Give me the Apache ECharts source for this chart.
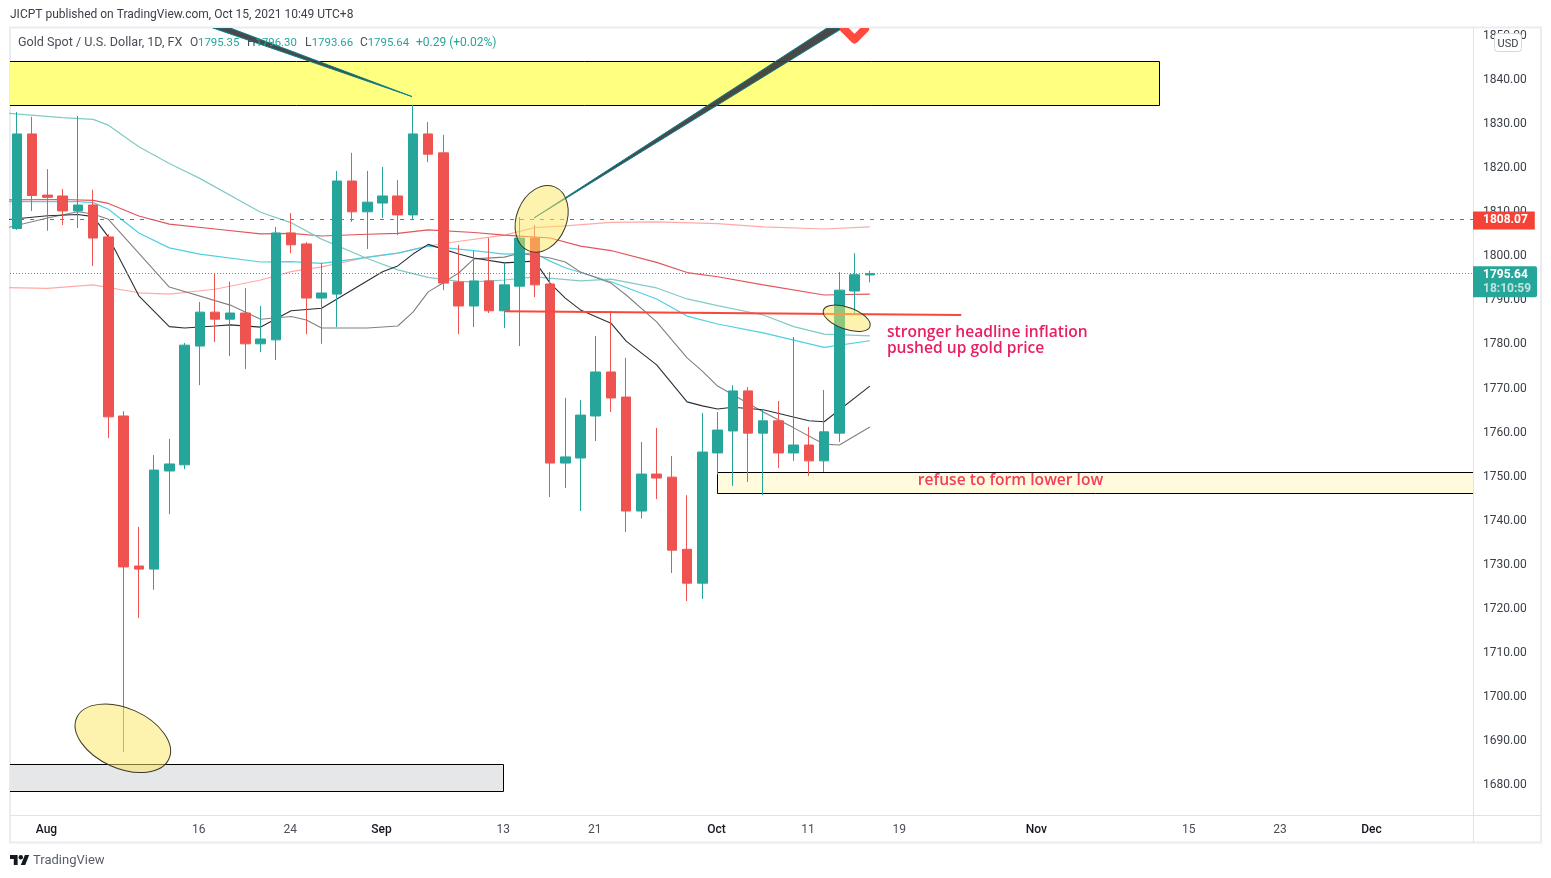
<!DOCTYPE html>
<html>
<head>
<meta charset="utf-8">
<title>Gold Spot / U.S. Dollar</title>
<script src="https://cdn.jsdelivr.net/npm/echarts@6/dist/echarts.min.js"></script>
<style>
html, body { margin: 0; padding: 0; background: #fff; }
#chart { width: 1551px; height: 878px; }
</style>
</head>
<body>
<div id="chart"></div>
<script>
// daily candles, 29 Jul - 15 Oct 2021
var days = ['07-29','07-30','08-02','08-03','08-04','08-05','08-06','08-09','08-10','08-11','08-12','08-13','08-16','08-17','08-18','08-19','08-20','08-23','08-24','08-25','08-26','08-27','08-30','08-31','09-01','09-02','09-03','09-06','09-07','09-08','09-09','09-10','09-13','09-14','09-15','09-16','09-17','09-20','09-21','09-22','09-23','09-24','09-27','09-28','09-29','09-30','10-01','10-04','10-05','10-06','10-07','10-08','10-11','10-12','10-13','10-14','10-15'];
var opens = [1805.9,1827.4,1813.5,1813.3,1809.9,1811.25,1804.0,1763.3,1729.2,1728.5,1750.8,1752.2,1779.2,1786.9,1785.3,1786.7,1779.7,1780.6,1804.9,1802.4,1790.1,1791.0,1816.7,1809.7,1811.7,1813.3,1809.0,1827.4,1823.1,1793.75,1788.3,1794.0,1787.2,1792.8,1803.75,1793.3,1752.6,1753.75,1763.3,1773.3,1767.6,1741.7,1750.1,1749.4,1733.0,1725.3,1754.9,1759.9,1769.0,1759.4,1762.2,1754.9,1756.7,1753.1,1759.4,1791.7,1795.35];
var closes = [1827.4,1813.4,1813.0,1809.9,1811.25,1803.75,1763.1,1729.0,1728.5,1751.0,1752.4,1779.4,1786.9,1785.3,1786.7,1779.7,1780.8,1804.9,1802.2,1790.1,1791.25,1816.7,1809.7,1811.9,1813.3,1809.0,1827.4,1822.8,1793.5,1788.3,1794.0,1787.2,1793.1,1803.75,1793.1,1752.6,1754.0,1763.5,1773.3,1767.4,1741.7,1750.1,1749.2,1732.8,1725.3,1755.1,1760.1,1769.0,1759.4,1762.2,1754.9,1756.7,1753.1,1759.7,1791.9,1795.4,1795.64];
var lows = [1805.6,1809.9,1805.4,1806.7,1806.0,1797.4,1758.3,1686.9,1717.4,1723.8,1741.0,1751.2,1770.3,1780.1,1776.9,1774.0,1777.8,1776.0,1800.3,1781.9,1779.7,1783.5,1807.4,1801.25,1808.3,1804.4,1807.8,1821.0,1791.9,1781.9,1783.5,1786.7,1783.3,1779.2,1790.3,1744.9,1746.9,1741.7,1757.6,1764.2,1736.9,1740.0,1744.4,1727.6,1721.25,1721.7,1750.0,1747.4,1748.3,1745.3,1751.5,1753.1,1749.7,1750.6,1757.4,1786.7,1793.66];
var highs = [1832.4,1831.3,1819.4,1814.9,1831.5,1814.7,1804.6,1764.4,1738.1,1754.4,1758.1,1779.9,1789.2,1795.6,1793.8,1792.4,1788.3,1806.25,1809.4,1802.8,1798.1,1819.0,1823.1,1819.0,1819.9,1816.9,1834.0,1830.1,1827.2,1802.2,1800.8,1803.75,1798.1,1808.5,1806.7,1796.0,1767.4,1766.9,1781.5,1787.2,1776.5,1757.4,1760.6,1754.2,1745.3,1764.0,1764.2,1770.3,1769.9,1764.9,1766.7,1781.25,1760.8,1769.2,1796.0,1800.3,1796.3];

// moving averages, read as [candle index, price] at the bends
var maBlack = [[-1,1807.8],[2,1808.8],[4,1809.1],[5,1808.6],[6,1804.0],[8,1790.6],[10,1783.6],[11,1783.3],[13,1783.75],[14,1784],[16,1783.5],[18,1787.2],[20,1787.8],[24,1796.1],[25,1797.4],[26,1800.1],[27,1802.3],[29,1800.1],[30,1799.2],[32,1798.1],[34,1798.5],[35,1793.5],[36,1790.1],[37,1787.4],[39,1784.4],[40,1780.3],[42,1774.9],[44,1766.5],[45,1765.6],[46,1764.9],[47,1765.3],[49,1764.7],[52,1762.2],[53,1762],[56,1770.1]];
var maGray = [[-1,1805.8],[2,1808.3],[4,1809.7],[5,1809.2],[6,1808],[10,1792.6],[14,1788.5],[16,1785.3],[18,1785.9],[19,1785.1],[20,1783.3],[23,1783.3],[25,1783.75],[26,1786.9],[27,1791.5],[28,1793.6],[29,1795.8],[30,1799],[32,1799.4],[33,1800.3],[35,1799.2],[36,1798.3],[37,1796],[39,1793.5],[40,1790.8],[42,1784.7],[44,1776.5],[45,1773.5],[46,1770.1],[49,1764.2],[51,1760.6],[53,1756.9],[54,1756.7],[56,1760.8]];
var maCyan = [[-1,1812],[4,1812],[5,1811.8],[6,1810.3],[8,1804.9],[10,1801.5],[12,1800.1],[16,1798.3],[18,1798.4],[20,1798],[22,1798.9],[25,1800.3],[27,1801.9],[30,1800.9],[32,1800.1],[34,1800.3],[35,1798.5],[36,1797],[39,1793.8],[42,1789.9],[44,1786],[46,1784.2],[49,1782.2],[53,1778.9],[56,1780.4]];
var maTeal = [[-1,1832.2],[3,1831.1],[5,1830.7],[6,1829.4],[8,1824.5],[10,1820.7],[12,1817.3],[16,1809.6],[18,1807.2],[20,1803.5],[23,1799.1],[25,1796.5],[27,1794.8],[29,1793.9],[30,1793.8],[32,1794.2],[34,1794.9],[37,1794],[39,1794.4],[42,1792.4],[44,1789.9],[46,1788.4],[49,1786.25],[51,1783.6],[53,1781.9],[56,1781.5]];
var maRed = [[-1,1812.4],[3,1812.5],[5,1812.3],[6,1811.6],[8,1808.75],[10,1806.9],[13,1805.8],[16,1804.7],[18,1804.8],[20,1804.2],[23,1804.6],[25,1804.8],[27,1805.6],[30,1805],[32,1804.4],[35,1803.75],[37,1801.9],[39,1800.9],[42,1798.2],[44,1795.9],[46,1794.95],[49,1793.1],[53,1790.8],[56,1791]];
var maPink = [[-1,1792.5],[2,1792.3],[5,1793.1],[8,1791.3],[10,1791],[13,1792.1],[16,1794.2],[18,1796.1],[20,1797.2],[23,1799.4],[25,1800.3],[27,1801.9],[28,1802.5],[32,1804.4],[34,1806.1],[36,1806.5],[39,1807.3],[42,1807.4],[46,1807],[49,1806.3],[53,1805.8],[56,1806.3]];

// axis labels
var priceTicks = [1680,1690,1700,1710,1720,1730,1740,1750,1760,1770,1780,1790,1800,1810,1820,1830,1840,1850];
var timeTicks = [2,12,18,24,32,38,46,52,58,67,77,83,89];
var timeLabels = ['Aug','16','24','Sep','13','21','Oct','11','19','Nov','15','23','Dec'];

// price levels
var lastPrice = 1795.64;
var levelPrice = 1808.07;

// drawings on the chart, [start index, end index, top price, bottom price]
var boxes = [[-1,75.01,1843.9,1833.9],[-1,31.96,1684.1,1678],[46,100,1750.45,1745.7]];
var boxFills = ['#ffff80','#e6e7e9','#fffbdc'];
var trendLine = [[32,1787.1],[62,1786.25]];
var wedges = [
    [[33.95,1808.3],[53.2,1851.5],[54.23,1851.5]],
    [[25.93,1835.9],[12.85,1851.5],[13.98,1851.5]]
];
var chevron = [[54.3,1851.25],[54.99,1848.86],[55.68,1851.25]];
var ellipses = [
    {at:[6.95,1690.05], rx:50.5, ry:30, turn:-24},
    {at:[34.45,1808.1], rx:25, ry:34.5, turn:-22},
    {at:[54.48,1785.5], rx:24.7, ry:10.9, turn:-19.7}
];
var notes = [
    {at:[57.12,1782.2], text:'stronger headline inflation', color:'#e91e63'},
    {at:[57.12,1778.55], text:'pushed up gold price', color:'#e91e63'},
    {at:[59.15,1748.55], text:'refuse to form lower low', color:'#f23d5e'}
];

var up = '#26a69a', down = '#ef5350';
var fontName = 'Roboto, sans-serif';

var candles = days.map(function (d, i) {
    return [i, opens[i], closes[i], lows[i], highs[i]];
});

function maSeries(name, data, color, width) {
    return {
        name: name,
        type: 'line',
        data: data,
        showSymbol: false,
        silent: true,
        z: 3,
        lineStyle: { color: color, width: width }
    };
}

function pts(api, list) {
    return list.map(function (p) { return api.coord(p); });
}

var legendY = 43;
function legendText(x, text, color, size) {
    return { type: 'text', z: 20, style: { x: x, y: legendY, text: text, fill: color, font: (size || 12) + 'px ' + fontName, verticalAlign: 'middle' } };
}
function frameLine(x1, y1, x2, y2) {
    return { type: 'line', z: 1, silent: true, shape: { x1: x1, y1: y1, x2: x2, y2: y2 }, style: { stroke: '#e0e3eb', lineWidth: 1 } };
}

var option = {
    animation: false,
    backgroundColor: '#ffffff',
    grid: { left: 10, right: 78, top: 28, bottom: 63 },
    xAxis: {
        type: 'value',
        min: -0.46,
        max: 95.6037,
        axisLine: { show: false },
        axisTick: { show: false },
        splitLine: { show: false },
        axisLabel: {
            customValues: timeTicks,
            margin: 9,
            formatter: function (v) {
                var t = timeLabels[timeTicks.indexOf(v)];
                return isNaN(t) ? '{m|' + t + '}' : '{d|' + t + '}';
            },
            rich: {
                m: { fontFamily: fontName, fontSize: 12, fontWeight: 500, color: '#131722', padding: [0, 2, 0, 0] },
                d: { fontFamily: fontName, fontSize: 12, color: '#4a4e58', padding: [0, 2, 0, 0] }
            }
        }
    },
    yAxis: {
        type: 'value',
        position: 'right',
        min: 1672.614,
        max: 1851.477,
        axisLine: { show: false },
        axisTick: { show: false },
        splitLine: { show: false },
        axisLabel: {
            customValues: priceTicks,
            margin: 10,
            formatter: function (v) { return '{p|' + v.toFixed(2) + '}'; },
            rich: { p: { fontFamily: fontName, fontSize: 12, color: '#3c404a', padding: [4, 0, 0, 0] } }
        }
    },
    series: [
        {
            type: 'custom',
            name: 'boxes',
            clip: true,
            silent: true,
            z: 2,
            data: boxes,
            renderItem: function (params, api) {
                var b = boxes[params.dataIndex];
                var a = api.coord([b[0], b[2]]);
                var c = api.coord([b[1], b[3]]);
                var x0 = Math.floor(a[0]), y0 = Math.floor(a[1]);
                return {
                    type: 'rect',
                    shape: { x: x0 + 0.5, y: y0 + 0.5, width: Math.floor(c[0]) - x0, height: Math.floor(c[1]) - y0 },
                    style: { fill: boxFills[params.dataIndex], stroke: '#000', lineWidth: 1 }
                };
            }
        },
        maSeries('ma pink', maPink, '#ffaaa6', 1.2),
        maSeries('ma red', maRed, '#e2555a', 1.2),
        maSeries('ma teal', maTeal, '#80cbc4', 1.2),
        maSeries('ma cyan', maCyan, '#4dd0e1', 1.2),
        maSeries('ma gray', maGray, '#808080', 1.1),
        maSeries('ma black', maBlack, '#2a2e39', 1.1),
        {
            type: 'candlestick',
            name: 'Gold',
            data: candles,
            barWidth: 10,
            silent: true,
            z: 5,
            itemStyle: { color: up, color0: down, borderColor: up, borderColor0: down, borderWidth: 1 },
            markLine: {
                silent: true,
                symbol: 'none',
                animation: false,
                data: [
                    {
                        yAxis: levelPrice,
                        lineStyle: { color: '#f44336', type: [4, 6], width: 1 },
                        label: {
                            position: 'end',
                            distance: 0,
                            offset: [0, 1.5],
                            formatter: levelPrice.toFixed(2),
                            backgroundColor: '#f44336',
                            color: '#fff',
                            fontFamily: fontName,
                            fontSize: 12,
                            fontWeight: 'bold',
                            padding: [3, 7, 3, 10]
                        }
                    },
                    {
                        yAxis: lastPrice,
                        lineStyle: { color: up, type: [1, 2], width: 1 },
                        label: {
                            position: 'end',
                            distance: 0,
                            offset: [0, 8],
                            formatter: '{a|' + lastPrice.toFixed(2) + '}\n{b|18:10:59}',
                            backgroundColor: up,
                            borderRadius: [0, 2, 2, 0],
                            padding: [1.5, 6, 1.5, 10],
                            rich: {
                                a: { color: '#fff', fontFamily: fontName, fontSize: 12, fontWeight: 'bold', lineHeight: 14 },
                                b: { color: 'rgba(255,255,255,0.7)', fontFamily: fontName, fontSize: 12, fontWeight: 'bold', lineHeight: 14 }
                            }
                        }
                    }
                ]
            }
        },
        {
            type: 'line',
            name: 'trend',
            data: trendLine,
            showSymbol: false,
            silent: true,
            z: 8,
            lineStyle: { color: '#f9473c', width: 2 }
        },
        {
            type: 'custom',
            name: 'wedges',
            clip: true,
            silent: true,
            z: 6,
            data: wedges.map(function (w, i) { return i; }),
            renderItem: function (params, api) {
                return {
                    type: 'polygon',
                    shape: { points: pts(api, wedges[params.dataIndex]) },
                    style: { fill: 'rgba(58,58,58,0.92)', stroke: '#0b7f8c', lineWidth: 1 }
                };
            }
        },
        {
            type: 'custom',
            name: 'chevron',
            clip: true,
            silent: true,
            z: 6,
            data: [0],
            renderItem: function (params, api) {
                return {
                    type: 'polyline',
                    shape: { points: pts(api, chevron) },
                    style: { fill: null, stroke: '#ff4a3d', lineWidth: 8, lineCap: 'round', lineJoin: 'round' }
                };
            }
        },
        {
            type: 'custom',
            name: 'ellipses',
            clip: true,
            silent: true,
            z: 9,
            data: ellipses.map(function (e, i) { return i; }),
            renderItem: function (params, api) {
                var e = ellipses[params.dataIndex];
                var c = api.coord(e.at);
                return {
                    type: 'ellipse',
                    x: c[0],
                    y: c[1],
                    rotation: e.turn * Math.PI / 180,
                    shape: { cx: 0, cy: 0, rx: e.rx, ry: e.ry },
                    style: { fill: 'rgba(251,231,93,0.5)', stroke: '#3a3a2a', lineWidth: 1 }
                };
            }
        },
        {
            type: 'custom',
            name: 'notes',
            clip: false,
            silent: true,
            z: 10,
            data: notes.map(function (n, i) { return i; }),
            renderItem: function (params, api) {
                var n = notes[params.dataIndex];
                var c = api.coord(n.at);
                return {
                    type: 'text',
                    style: { x: c[0], y: c[1], text: n.text, fill: n.color, font: '600 15.6px "Open Sans", sans-serif', verticalAlign: 'middle' }
                };
            }
        }
    ],
    graphic: [
        { type: 'text', z: 20, style: { x: 10, y: 15, text: 'JICPT published on TradingView.com, Oct 15, 2021 10:49 UTC+8', fill: '#3c404a', font: '12px ' + fontName, verticalAlign: 'middle' } },
        legendText(18, 'Gold Spot / U.S. Dollar, 1D, FX', '#4a4e58', 12.6),
        legendText(190, 'O', '#4a4e58'),
        legendText(198, '1795.35', up, 11.4),
        legendText(247, 'H', '#4a4e58'),
        legendText(255.5, '1796.30', up, 11.4),
        legendText(305, 'L', '#4a4e58'),
        legendText(311.7, '1793.66', up, 11.4),
        legendText(360, 'C', '#4a4e58'),
        legendText(367.7, '1795.64', up, 11.4),
        legendText(416, '+0.29 (+0.02%)', up),
        { type: 'rect', z: 0, silent: true, shape: { x: 10, y: 27.5, width: 1531, height: 815 }, style: { fill: null, stroke: '#ebebf0', lineWidth: 2 } },
        frameLine(1473.5, 28, 1473.5, 843),
        frameLine(10, 815.5, 1541, 815.5),
        { type: 'rect', z: 20, shape: { x: 1494.5, y: 33.5, width: 27, height: 18, r: 3 }, style: { fill: '#fff', stroke: '#d6d8e0', lineWidth: 1 } },
        { type: 'text', z: 21, style: { x: 1508, y: 44, text: 'USD', fill: '#3c404a', font: '11px ' + fontName, align: 'center', verticalAlign: 'middle' } },
        // TradingView mark
        { type: 'polygon', z: 20, shape: { points: [[10,855],[17.6,855],[17.6,865],[13.8,865],[13.8,859],[10,859]] }, style: { fill: '#131722' } },
        { type: 'polygon', z: 20, shape: { points: [[25.2,865],[20.8,865],[24.9,855],[29.2,855]] }, style: { fill: '#131722' } },
        { type: 'circle', z: 20, shape: { cx: 20.8, cy: 857.2, r: 2.2 }, style: { fill: '#131722' } },
        { type: 'text', z: 20, style: { x: 33, y: 861, text: 'TradingView', fill: '#5a5e68', font: '13px ' + fontName, verticalAlign: 'middle' } }
    ]
};

var myChart = echarts.init(document.getElementById('chart'));
myChart.setOption(option);
</script>
</body>
</html>
